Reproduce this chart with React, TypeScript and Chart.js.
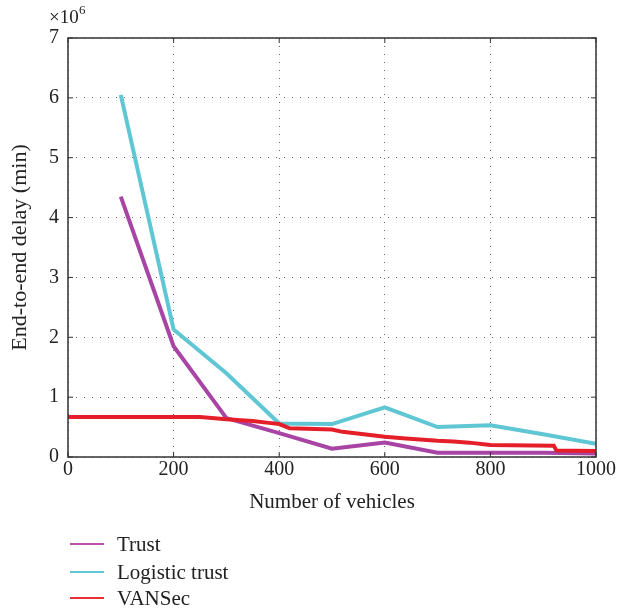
import React, { useEffect, useRef } from "react";
import { Chart, registerables } from "chart.js";

Chart.register(...registerables);

const trustX = [100, 200, 300, 400, 500, 600, 700, 800, 900, 1000];
const trustY = [4.35e6, 1.85e6, 0.65e6, 0.4e6, 0.14e6, 0.24e6, 0.07e6, 0.07e6, 0.07e6, 0.06e6];

const logisticX = [100, 200, 300, 400, 500, 600, 700, 800, 900, 1000];
const logisticY = [6.05e6, 2.13e6, 1.4e6, 0.56e6, 0.55e6, 0.83e6, 0.5e6, 0.53e6, 0.38e6, 0.22e6];

const vansecX = [0, 250, 300, 350, 380, 400, 420, 500, 520, 580, 600, 640, 700, 730, 760, 800, 920, 925, 1000];
const vansecY = [0.67e6, 0.67e6, 0.63e6, 0.6e6, 0.57e6, 0.55e6, 0.48e6, 0.46e6, 0.42e6, 0.36e6, 0.34e6, 0.31e6, 0.27e6, 0.26e6, 0.24e6, 0.2e6, 0.19e6, 0.11e6, 0.1e6];

const seriesNames = ["Trust", "Logistic trust", "VANSec"];
const seriesColors = ["#a845a4", "#5fc6d3", "#e51f2a"];
const legendColors = ["#c050b0", "#5fc6d3", "#e83038"];

const xTicks = [0, 200, 400, 600, 800, 1000];
const yTicks = [0, 1, 2, 3, 4, 5, 6, 7];

const FONT = "'Liberation Serif', 'Times New Roman', serif";

const toPts = (xs: number[], ys: number[]) => xs.map((x, i) => ({ x, y: ys[i] }));

const framePlugin = {
  id: "frame",
  afterDraw(chart: any) {
    const { ctx, chartArea } = chart;
    const { left, right, top, bottom } = chartArea;
    ctx.save();
    ctx.strokeStyle = "#333";
    ctx.lineWidth = 1.5;
    ctx.strokeRect(left, top, right - left, bottom - top);
    const xs = chart.scales.x;
    const ys = chart.scales.y;
    ctx.lineWidth = 1;
    xTicks.forEach((v) => {
      const px = xs.getPixelForValue(v);
      ctx.beginPath();
      ctx.moveTo(px, bottom);
      ctx.lineTo(px, bottom - 5);
      ctx.moveTo(px, top);
      ctx.lineTo(px, top + 5);
      ctx.stroke();
    });
    yTicks.forEach((v) => {
      const py = ys.getPixelForValue(v * 1e6);
      ctx.beginPath();
      ctx.moveTo(left, py);
      ctx.lineTo(left + 5, py);
      ctx.moveTo(right, py);
      ctx.lineTo(right - 5, py);
      ctx.stroke();
    });
    ctx.fillStyle = "#222";
    ctx.font = `19px ${FONT}`;
    ctx.textBaseline = "alphabetic";
    ctx.textAlign = "left";
    ctx.fillText("×10", 49, 23);
    ctx.font = `13px ${FONT}`;
    ctx.fillText("6", 79, 14);
    ctx.restore();
  },
};

export default function App() {
  const canvasRef = useRef<HTMLCanvasElement | null>(null);

  useEffect(() => {
    if (!canvasRef.current) return;
    const chart = new Chart(canvasRef.current, {
      type: "line",
      data: {
        datasets: [
          {
            label: seriesNames[0],
            data: toPts(trustX, trustY),
            borderColor: seriesColors[0],
            borderWidth: 4,
            pointRadius: 0,
            tension: 0,
            order: 2,
          },
          {
            label: seriesNames[1],
            data: toPts(logisticX, logisticY),
            borderColor: seriesColors[1],
            borderWidth: 4,
            pointRadius: 0,
            tension: 0,
            order: 1,
          },
          {
            label: seriesNames[2],
            data: toPts(vansecX, vansecY),
            borderColor: seriesColors[2],
            borderWidth: 4,
            pointRadius: 0,
            tension: 0,
            order: 0,
          },
        ],
      },
      options: {
        animation: false,
        responsive: false,
        maintainAspectRatio: false,
        layout: { padding: { top: 38, right: 34, bottom: 97, left: 0 } },
        plugins: {
          legend: { display: false },
          tooltip: { enabled: false },
        },
        scales: {
          x: {
            type: "linear",
            min: 0,
            max: 1000,
            afterBuildTicks: (s: any) => {
              s.ticks = xTicks.map((v) => ({ value: v }));
            },
            afterFit: (s: any) => {
              s.height = 58;
            },
            ticks: {
              color: "#222",
              font: { family: FONT, size: 20 },
              padding: 1,
              maxRotation: 0,
              callback: (v: any) => String(v),
            },
            grid: {
              color: "rgba(60,60,60,0.8)",
              drawTicks: false,
              lineWidth: 1,
            },
            border: { display: false, dash: [1, 7] },
            title: {
              display: true,
              text: "Number of vehicles",
              color: "#222",
              font: { family: FONT, size: 21 },
              padding: { top: 4, bottom: 0 },
            },
          },
          y: {
            type: "linear",
            min: 0,
            max: 7e6,
            afterBuildTicks: (s: any) => {
              s.ticks = yTicks.map((v) => ({ value: v * 1e6 }));
            },
            afterFit: (s: any) => {
              s.width = 68;
            },
            ticks: {
              color: "#222",
              font: { family: FONT, size: 20 },
              padding: 9,
              callback: (v: any) => String(Number(v) / 1e6),
            },
            grid: {
              color: "rgba(60,60,60,0.8)",
              drawTicks: false,
              lineWidth: 1,
            },
            border: { display: false, dash: [1, 7] },
            title: {
              display: true,
              text: "End-to-end delay (min)",
              color: "#222",
              font: { family: FONT, size: 22 },
              padding: { top: 7, bottom: 0 },
            },
          },
        },
      } as any,
      plugins: [framePlugin],
    });
    return () => chart.destroy();
  }, []);

  const legendTop = [544, 572, 598];

  return (
    <div style={{ position: "absolute", left: 0, top: 0, width: 630, height: 612, background: "#fff" }}>
      <canvas ref={canvasRef} width={630} height={612} style={{ display: "block" }} />
      {seriesNames.map((name, i) => (
        <div
          key={name}
          style={{
            position: "absolute",
            left: 70,
            top: legendTop[i] - 13,
            height: 26,
            display: "flex",
            alignItems: "center",
            fontFamily: FONT,
            fontSize: 21,
            color: "#222",
          }}
        >
          <span style={{ display: "inline-block", width: 34, height: 2, background: legendColors[i], marginRight: 13 }} />
          <span>{name}</span>
        </div>
      ))}
    </div>
  );
}
